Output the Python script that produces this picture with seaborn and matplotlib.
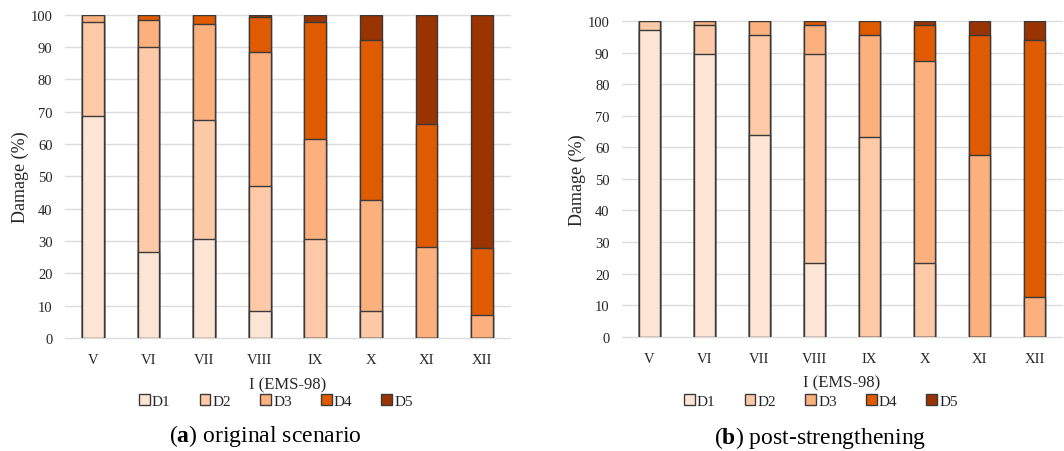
import matplotlib
matplotlib.use("Agg")
import matplotlib.pyplot as plt
import seaborn as sns
import pandas as pd
import numpy as np
from matplotlib.patches import Patch

# ---------------- data ----------------
categories = ["V", "VI", "VII", "VIII", "IX", "X", "XI", "XII"]
damage_levels = ["D1", "D2", "D3", "D4", "D5"]

# (a) original scenario, % of buildings in each damage grade
d1_orig = [68.8, 26.7, 30.6, 8.4, 0.0, 0.0, 0.0, 0.0]
d2_orig = [28.8, 63.4, 36.9, 38.6, 30.6, 8.4, 0.0, 0.0]
d3_orig = [2.4, 8.2, 29.5, 41.5, 30.9, 34.4, 28.2, 7.2]
d4_orig = [0.0, 1.7, 3.0, 10.8, 36.1, 49.3, 38.1, 20.6]
d5_orig = [0.0, 0.0, 0.0, 0.7, 2.4, 7.9, 33.7, 72.2]

# (b) post-strengthening
d1_post = [97.0, 89.7, 63.9, 23.5, 0.0, 0.0, 0.0, 0.0]
d2_post = [3.0, 9.1, 31.8, 66.2, 63.2, 23.5, 0.0, 0.0]
d3_post = [0.0, 1.2, 4.3, 9.1, 32.5, 63.7, 57.7, 12.6]
d4_post = [0.0, 0.0, 0.0, 1.2, 4.3, 11.6, 38.0, 81.4]
d5_post = [0.0, 0.0, 0.0, 0.0, 0.0, 1.2, 4.3, 6.0]

y_ticks = [0, 10, 20, 30, 40, 50, 60, 70, 80, 90, 100]
x_title = "I (EMS-98)"
y_title = "Damage (%)"
captions = [("a", "original scenario"), ("b", "post-strengthening")]

colors = ["#fde5d6", "#fdc9a6", "#fcb07e", "#e05a00", "#993300"]
edge = "#3a3a3a"
text_col = "#262626"

# ---------------- style ----------------
sns.set_theme(style="white")
plt.rcParams["font.family"] = ["Liberation Serif", "DejaVu Serif"]
plt.rcParams["mathtext.fontset"] = "custom"
plt.rcParams["mathtext.rm"] = "Liberation Serif"
plt.rcParams["mathtext.bf"] = "Liberation Serif:bold"

fig = plt.figure(figsize=(10.64, 4.52), dpi=100)
W, H = 1064.0, 452.0


def ax_rect(x0, x1, ytop, ybot):
    return [x0 / W, 1 - ybot / H, (x1 - x0) / W, (ybot - ytop) / H]


ax_a = fig.add_axes(ax_rect(65, 510, 15.7, 339))
ax_b = fig.add_axes(ax_rect(622, 1062, 22, 337.7))


def draw(ax, series, xc, legend_x, cap_y, caption):
    cum = np.cumsum(np.array(series, dtype=float), axis=0)
    for i in range(len(damage_levels) - 1, -1, -1):
        df = pd.DataFrame({"I": categories, "cum": cum[i]})
        sns.barplot(data=df, x="I", y="cum", order=categories, color=colors[i],
                    saturation=1, width=0.39, edgecolor=edge, linewidth=1.0,
                    errorbar=None, ax=ax)
    ax.set_xlim(-0.5, len(categories) - 0.5)
    ax.set_ylim(0, 100)
    ax.set_yticks(y_ticks)
    ax.set_yticklabels([str(t) for t in y_ticks], fontsize=10.5, color=text_col)
    ax.set_xticks(range(len(categories)))
    ax.set_xticklabels(categories, fontsize=10.5, color=text_col)
    ax.tick_params(axis="both", length=0)
    ax.tick_params(axis="x", pad=11)
    ax.tick_params(axis="y", pad=9)
    for s in ax.spines.values():
        s.set_visible(False)
    ax.yaxis.grid(True, color="#dcdcdc", linewidth=1.0)
    ax.set_axisbelow(True)
    for gl in ax.get_ygridlines():
        gl.set_clip_on(False)
    ax.set_xlabel(x_title, fontsize=12, color=text_col, labelpad=7)
    ax.set_ylabel(y_title, fontsize=13, color=text_col, labelpad=1.5)

    handles = [Patch(facecolor=c, edgecolor=edge, linewidth=1.0) for c in colors]
    fig.legend(handles, damage_levels, loc="center", bbox_to_anchor=(legend_x / W, 1 - 402 / H),
               ncol=5, frameon=False, fontsize=11, handlelength=0.7, handleheight=0.7,
               handletextpad=0.15, columnspacing=1.9, borderaxespad=0,
               labelcolor=text_col)
    fig.text(xc / W, 1 - cap_y / H, r"($\mathbf{%s}$) %s" % caption,
             ha="center", va="center", fontsize=17, color="black")


draw(ax_a, [d1_orig, d2_orig, d3_orig, d4_orig, d5_orig], 265, 276, 436, captions[0])
draw(ax_b, [d1_post, d2_post, d3_post, d4_post, d5_post], 820, 821, 438, captions[1])

fig.savefig("out.png", dpi=100, facecolor="white")
